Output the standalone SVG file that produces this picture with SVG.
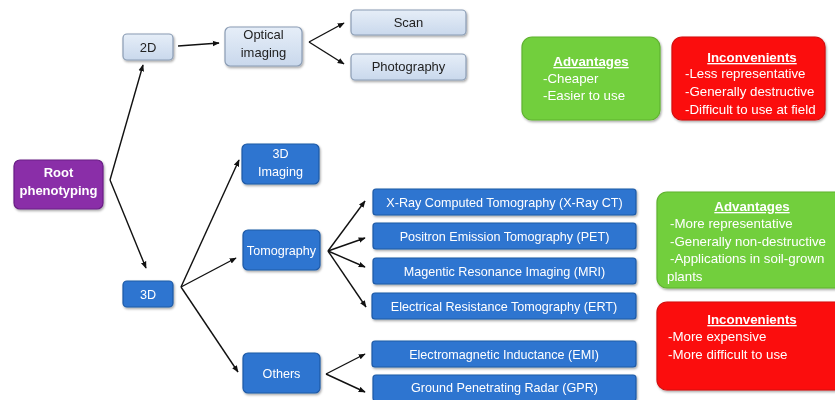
<svg xmlns="http://www.w3.org/2000/svg" width="835" height="400" viewBox="0 0 835 400">
<style>
text{font-family:"Liberation Sans",Arial,sans-serif}
.lt{fill:url(#gLight);stroke:#8a9cb4;stroke-width:1.2}
.bl{fill:#2f74d0;stroke:#1d5aa6;stroke-width:1.2}
.pu{fill:#8a2fa8;stroke:#6a1f86;stroke-width:1.2}
.gr{fill:#72cf3e;stroke:#5fb32f;stroke-width:1.2}
.rd{fill:#fb0f0f;stroke:#d40b0b;stroke-width:1.2}
.tl{fill:#222;font-size:13px;text-anchor:middle}
.tw{fill:#fff;font-size:12.6px;text-anchor:middle}
.tb{fill:#fff;font-size:13px;font-weight:bold;text-anchor:middle}
.ti{fill:#fff;font-size:13.3px}
.th{fill:#fff;font-size:13.3px;font-weight:bold;text-anchor:middle;text-decoration:underline}
.cn{stroke:#111;stroke-width:1.4;fill:none;marker-end:url(#ah)}
</style>
<defs>
<linearGradient id="gLight" x1="0" y1="0" x2="0" y2="1">
<stop offset="0" stop-color="#e6eef8"/><stop offset="1" stop-color="#c9d8ec"/>
</linearGradient>
<filter id="sh" x="-10%" y="-10%" width="130%" height="140%">
<feDropShadow dx="1" dy="1.5" stdDeviation="1" flood-color="#000" flood-opacity="0.35"/>
</filter>
<marker id="ah" viewBox="0 0 10 10" refX="9" refY="5" markerWidth="7" markerHeight="7" markerUnits="userSpaceOnUse" orient="auto">
<path d="M0,1 L10,5 L0,9 z" fill="#111"/>
</marker>
</defs>
<rect width="835" height="400" fill="#fff"/>

<g id="connectors">
<polyline class="cn" points="110,180 143,65"/>
<polyline class="cn" points="110,180 146,268"/>
<line class="cn" x1="178" y1="46" x2="219" y2="43"/>
<line class="cn" x1="309" y1="42" x2="344" y2="23"/>
<line class="cn" x1="309" y1="42" x2="344" y2="64"/>
<line class="cn" x1="181" y1="287" x2="239" y2="160"/>
<line class="cn" x1="181" y1="287" x2="236" y2="258"/>
<line class="cn" x1="181" y1="287" x2="238" y2="372"/>
<line class="cn" x1="328" y1="251" x2="365" y2="201"/>
<line class="cn" x1="328" y1="251" x2="365" y2="238"/>
<line class="cn" x1="328" y1="251" x2="365" y2="267"/>
<line class="cn" x1="328" y1="251" x2="366" y2="307"/>
<line class="cn" x1="326" y1="374" x2="365" y2="354"/>
<line class="cn" x1="326" y1="374" x2="365" y2="392"/>
</g>

<g id="root" filter="url(#sh)">
<rect class="pu" x="14" y="160" width="89" height="49" rx="6"/>
<text class="tb" x="58.5" y="177">Root</text>
<text class="tb" x="58.5" y="195">phenotyping</text>
</g>
<g id="n2d" filter="url(#sh)">
<rect class="lt" x="123" y="34" width="50" height="26" rx="4"/>
<text class="tl" x="148" y="51.5">2D</text>
</g>
<g id="optical" filter="url(#sh)">
<rect class="lt" x="225" y="27" width="77" height="39" rx="5"/>
<text class="tl" x="263.5" y="39">Optical</text>
<text class="tl" x="263.5" y="56.5">imaging</text>
</g>
<g id="scan" filter="url(#sh)">
<rect class="lt" x="351" y="10" width="115" height="25" rx="4"/>
<text class="tl" x="408.5" y="27">Scan</text>
</g>
<g id="photography" filter="url(#sh)">
<rect class="lt" x="351" y="54" width="115" height="26" rx="4"/>
<text class="tl" x="408.5" y="71">Photography</text>
</g>
<g id="n3d" filter="url(#sh)">
<rect class="bl" x="123" y="281" width="50" height="26" rx="4"/>
<text class="tw" x="148" y="298.5">3D</text>
</g>
<g id="imaging3d" filter="url(#sh)">
<rect class="bl" x="242" y="144" width="77" height="40" rx="5"/>
<text class="tw" x="280.5" y="158">3D</text>
<text class="tw" x="280.5" y="176">Imaging</text>
</g>
<g id="tomography" filter="url(#sh)">
<rect class="bl" x="243" y="230" width="77" height="40" rx="5"/>
<text class="tw" x="281.5" y="255">Tomography</text>
</g>
<g id="others" filter="url(#sh)">
<rect class="bl" x="243" y="353" width="77" height="40" rx="5"/>
<text class="tw" x="281.5" y="378">Others</text>
</g>
<g id="xrayct" filter="url(#sh)">
<rect class="bl" x="373" y="189" width="263" height="26" rx="3"/>
<text class="tw" x="504.5" y="206.5">X-Ray Computed Tomography (X-Ray CT)</text>
</g>
<g id="pet" filter="url(#sh)">
<rect class="bl" x="373" y="223" width="263" height="26" rx="3"/>
<text class="tw" x="504.5" y="240.5">Positron Emission Tomography (PET)</text>
</g>
<g id="mri" filter="url(#sh)">
<rect class="bl" x="373" y="258" width="263" height="26" rx="3"/>
<text class="tw" x="504.5" y="275.5">Magentic Resonance Imaging (MRI)</text>
</g>
<g id="ert" filter="url(#sh)">
<rect class="bl" x="372" y="293" width="264" height="26" rx="3"/>
<text class="tw" x="504" y="310.5">Electrical Resistance Tomography (ERT)</text>
</g>
<g id="emi" filter="url(#sh)">
<rect class="bl" x="372" y="341" width="264" height="26" rx="3"/>
<text class="tw" x="504" y="358.5">Electromagnetic Inductance (EMI)</text>
</g>
<g id="gpr" filter="url(#sh)">
<rect class="bl" x="373" y="375" width="263" height="26" rx="3"/>
<text class="tw" x="504.5" y="392">Ground Penetrating Radar (GPR)</text>
</g>

<g id="adv2d" filter="url(#sh)">
<rect class="gr" x="522" y="37" width="138" height="83" rx="10"/>
<text class="th" x="591" y="66">Advantages</text>
<text class="ti" x="543" y="83">-Cheaper</text>
<text class="ti" x="543" y="100">-Easier to use</text>
</g>
<g id="inc2d" filter="url(#sh)">
<rect class="rd" x="672" y="37" width="153" height="83" rx="10"/>
<text class="th" x="752" y="62">Inconvenients</text>
<text class="ti" x="685" y="78">-Less representative</text>
<text class="ti" x="685" y="96">-Generally destructive</text>
<text class="ti" x="685" y="114">-Difficult to use at field</text>
</g>
<g id="adv3d" filter="url(#sh)">
<rect class="gr" x="657" y="192" width="190" height="96" rx="10"/>
<text class="th" x="752" y="211">Advantages</text>
<text class="ti" x="670" y="228">-More representative</text>
<text class="ti" x="670" y="246">-Generally non-destructive</text>
<text class="ti" x="670" y="263">-Applications in soil-grown</text>
<text class="ti" x="667" y="281">plants</text>
</g>
<g id="inc3d" filter="url(#sh)">
<rect class="rd" x="657" y="302" width="190" height="88" rx="10"/>
<text class="th" x="752" y="324">Inconvenients</text>
<text class="ti" x="668" y="341">-More expensive</text>
<text class="ti" x="668" y="359">-More difficult to use</text>
</g>
</svg>
